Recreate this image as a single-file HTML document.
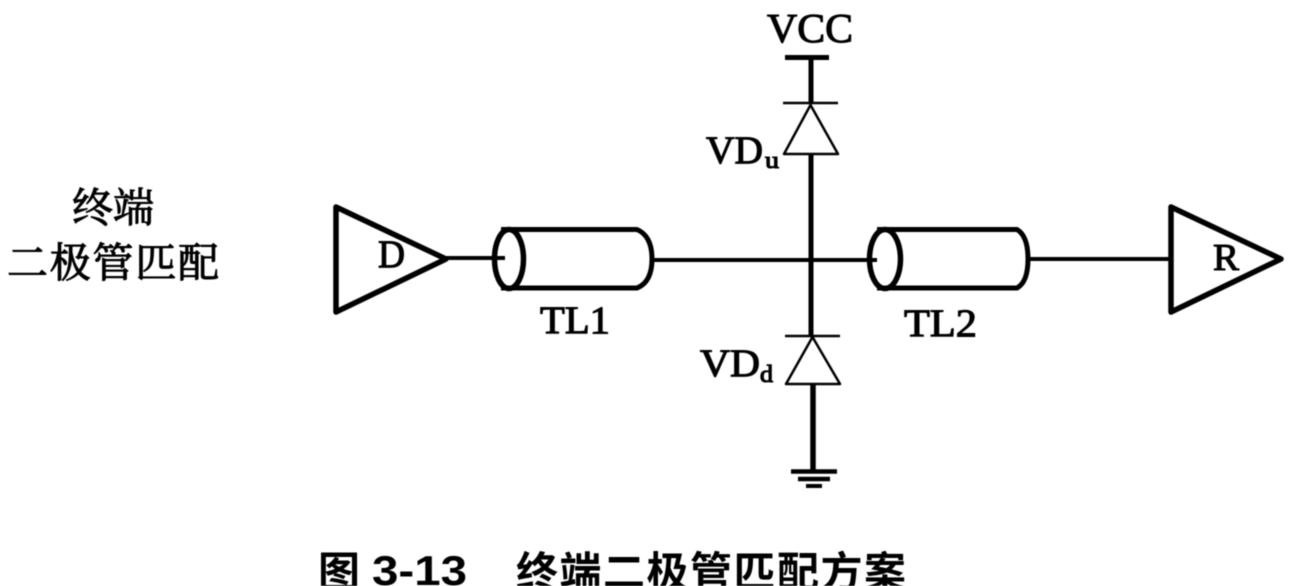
<!DOCTYPE html>
<html>
<head>
<meta charset="utf-8">
<style>
html,body{margin:0;padding:0;background:#fff;width:1303px;height:586px;overflow:hidden}
svg{display:block;filter:blur(.5px)}
.s{font-family:"Liberation Serif","Noto Serif CJK SC",serif;fill:#000;stroke:#000;stroke-width:1.100}
.c{font-family:"Noto Serif CJK SC","Liberation Serif",serif;fill:#000;font-size:41px;stroke:#000;stroke-width:1}
.b{font-family:"Liberation Sans","Noto Sans CJK SC",sans-serif;fill:#000;font-weight:bold;font-size:42px}
</style>
</head>
<body>
<svg width="1303" height="586" viewBox="0 0 1303 586" xmlns="http://www.w3.org/2000/svg">
<rect width="1303" height="586" fill="#fff"/>
<g fill="none" stroke="#000" stroke-linejoin="round">
  <!-- Driver -->
  <path d="M336 207 L336 312 L446 259 Z" stroke-width="5.500"/>
  <path d="M446 258 H505" stroke-width="4"/>
  <!-- TL1 -->
  <path d="M501 229.500 H637 Q652 236 652 259 Q652 282 637 288 H501" stroke-width="5"/>
  <ellipse cx="509" cy="259" rx="14.500" ry="29.500" stroke-width="5.500"/>
  <path d="M652 260 H811" stroke-width="4"/>
  <!-- TL2 -->
  <path d="M877 229.500 H1017 Q1028 236 1028 259 Q1028 282 1017 288 H877" stroke-width="5"/>
  <ellipse cx="885" cy="259" rx="15.500" ry="29.500" stroke-width="5.500"/>
  <path d="M811 260 H877" stroke-width="4"/>
  <path d="M1028 259 H1170" stroke-width="4"/>
  <!-- Receiver -->
  <path d="M1171 207 L1171 312 L1281 259 Z" stroke-width="5.500"/>
  <!-- VCC and upper diode -->
  <path d="M785 57.500 H829" stroke-width="5"/>
  <path d="M811 57 V103" stroke-width="5"/>
  <path d="M783 103 H838" stroke-width="2.500"/>
  <path d="M810.500 105 L784 154 H838 Z" stroke-width="2.500"/>
  <path d="M811 154 V336" stroke-width="5"/>
  <!-- Lower diode -->
  <path d="M785 336 H840" stroke-width="2.500"/>
  <path d="M812.500 337 L786 384 H840 Z" stroke-width="2.500"/>
  <path d="M813 384 V471" stroke-width="5.500"/>
  <!-- Ground -->
  <path d="M791 471.500 H837" stroke-width="4.500"/>
  <path d="M798 479 H830" stroke-width="4.500"/>
  <path d="M806 486 H822" stroke-width="4"/>
</g>

<text class="s" x="767" y="42" font-size="41" textLength="86" lengthAdjust="spacingAndGlyphs">VCC</text>
<text class="s" x="706" y="163" font-size="39" textLength="57" lengthAdjust="spacingAndGlyphs">VD</text>
<text class="s" x="765" y="168" font-size="24" textLength="14" lengthAdjust="spacingAndGlyphs">u</text>
<text class="s" x="700" y="376" font-size="39" textLength="60" lengthAdjust="spacingAndGlyphs">VD</text>
<text class="s" x="760" y="382" font-size="24" textLength="13" lengthAdjust="spacingAndGlyphs">d</text>
<text class="s" x="378" y="267" font-size="39" textLength="27" lengthAdjust="spacingAndGlyphs">D</text>
<text class="s" x="1213" y="270" font-size="38" textLength="26" lengthAdjust="spacingAndGlyphs">R</text>
<text class="s" x="540" y="333" font-size="39" textLength="70" lengthAdjust="spacingAndGlyphs">TL1</text>
<text class="s" x="904" y="336" font-size="39" textLength="73" lengthAdjust="spacingAndGlyphs">TL2</text>

<text class="c" x="72" y="222">终端</text>
<text class="c" x="7" y="277" textLength="212" lengthAdjust="spacing">二极管匹配</text>

<text class="b" x="318" y="587">图</text>
<text class="b" x="372" y="585" textLength="95" lengthAdjust="spacingAndGlyphs">3-13</text>
<text class="b" x="516" y="587" textLength="390" lengthAdjust="spacing">终端二极管匹配方案</text>
</svg>
</body>
</html>
